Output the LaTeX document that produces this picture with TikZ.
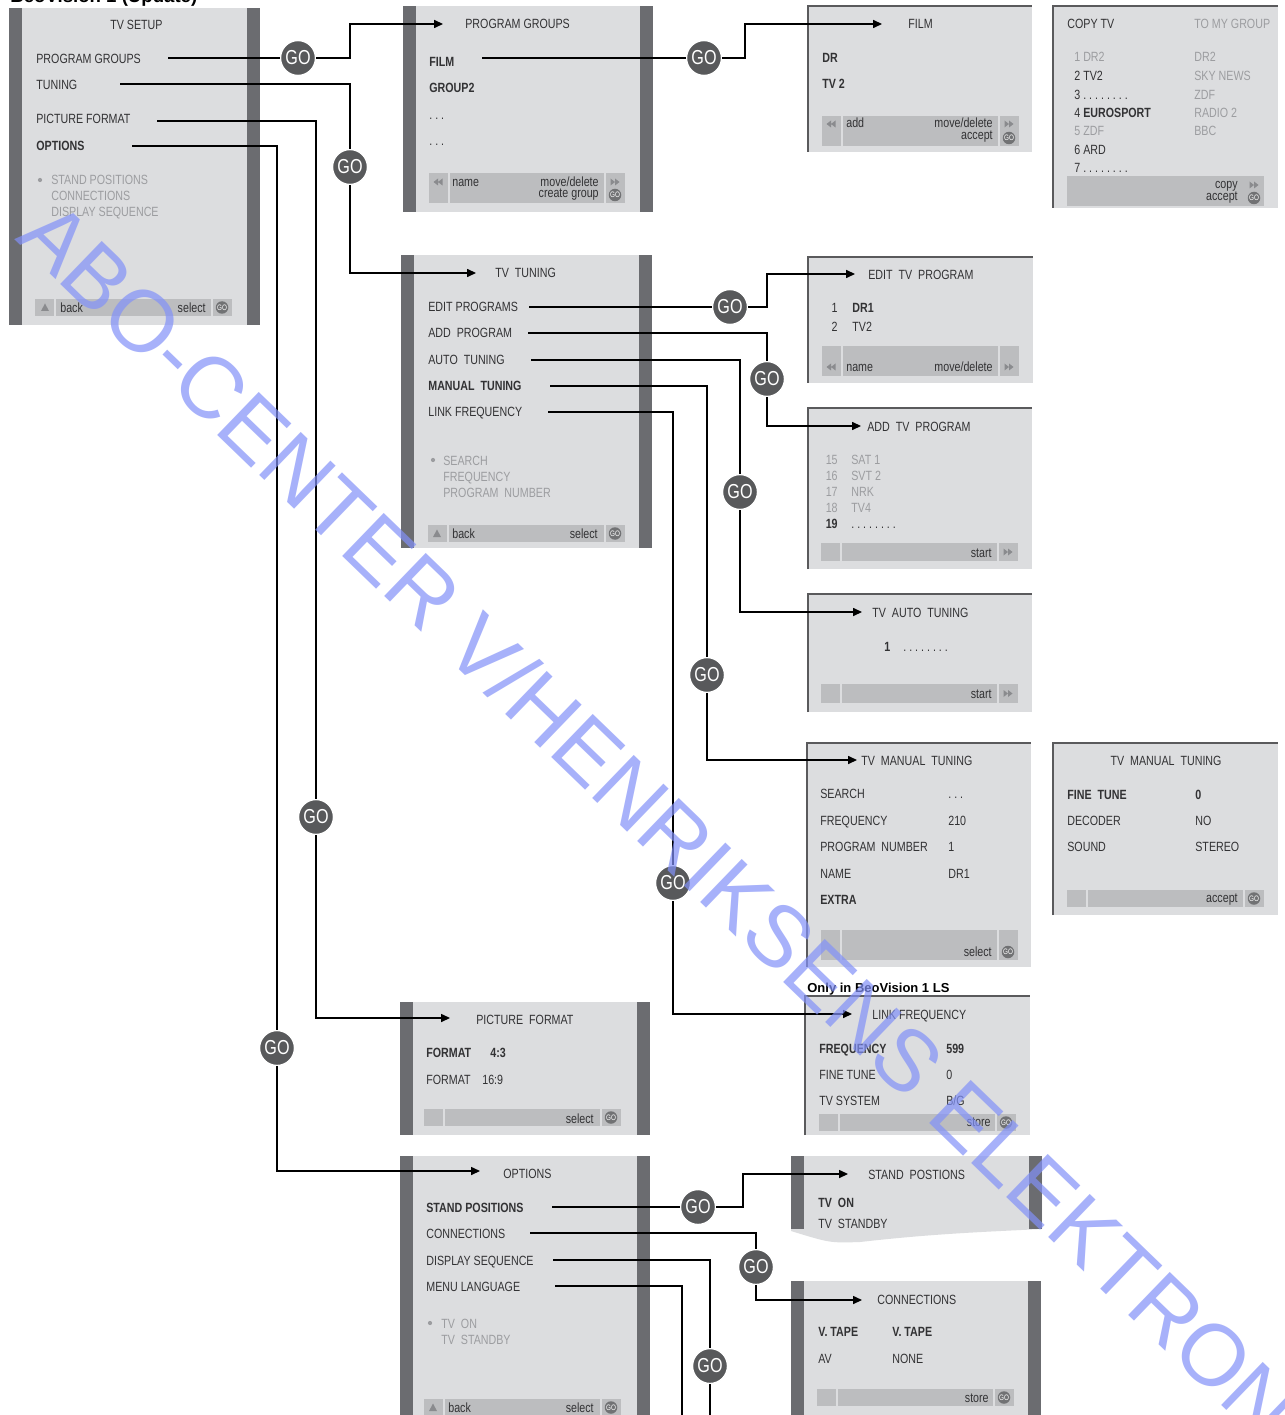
\documentclass[tikz,border=0pt]{standalone}
\usepackage{fontspec}
\setmainfont{Liberation Sans}[FakeStretch=0.8]
\newfontfamily\markfont{Liberation Sans}
\usetikzlibrary{arrows.meta, positioning}

\definecolor{ScrGray}{RGB}{220,221,223}
\definecolor{BarGray}{RGB}{107,108,112}
\definecolor{FootGray}{RGB}{188,189,191}
\definecolor{EdgeGray}{RGB}{90,90,92}
\definecolor{GoGray}{RGB}{88,89,91}
\definecolor{IconGray}{RGB}{138,139,142}
\definecolor{TxtDark}{RGB}{50,50,52}
\definecolor{TxtGray}{RGB}{156,157,160}
\definecolor{MarkBlue}{RGB}{130,145,248}

% screen with dark side bars: x1 y1 x2 y2
\newcommand{\tvpanel}[4]{%
  \fill[ScrGray] (#1,#2) rectangle (#3,#4);
  \fill[BarGray] (#1,#2) rectangle ({#1+13},#4);
  \fill[BarGray] ({#3-13},#2) rectangle (#3,#4);}
% screen cut open on the right: thin top and left edge
\newcommand{\cutpanel}[4]{%
  \fill[ScrGray] (#1,#2) rectangle (#3,#4);
  \draw[EdgeGray, line width=0.8pt] (#1,#4) -- (#1,#2) -- (#3,#2);}
% footer bar in three parts: x1 x2 y1 y2
\newcommand{\menubar}[4]{%
  \fill[FootGray] (#1,#3) rectangle ({#1+19},#4);
  \fill[FootGray] ({#1+21},#3) rectangle ({#2-21},#4);
  \fill[FootGray] ({#2-19},#3) rectangle (#2,#4);}

\begin{document}
\begin{tikzpicture}[x=0.02cm, y=-0.02cm,
        font=\fontsize{7.6}{9}\selectfont,
        item/.style={anchor=base west, inner sep=0pt, text=TxtDark},
        bitem/.style={item, font=\fontsize{7.6}{9}\selectfont\bfseries},
        dim/.style={item, text=TxtGray},
        rtext/.style={anchor=base east, inner sep=0pt, text=TxtDark},
        go/.style={circle, fill=GoGray, draw=white, line width=0.8pt, minimum size=0.7cm, inner sep=0pt, text=white, font=\fontsize{11.5}{12}\selectfont},
        goicon/.style={circle, fill=GoGray!85, minimum size=0.25cm, inner sep=0pt, text=white, font=\fontsize{4.5}{5}\selectfont},
        wire/.style={line width=0.7pt, black},
        arrow/.style={wire, -{Triangle[length=5pt, width=4.5pt]}},
        uptri/.pic={\fill[IconGray] (-4,3.5) -- (4,3.5) -- (0,-4) -- cycle;},
        rwd/.pic={\fill[IconGray] (0,-3.5) -- (0,3.5) -- (-4.5,0) -- cycle (4.5,-3.5) -- (4.5,3.5) -- (0,0) -- cycle;},
        fwd/.pic={\fill[IconGray] (0,-3.5) -- (0,3.5) -- (4.5,0) -- cycle (-4.5,-3.5) -- (-4.5,3.5) -- (0,0) -- cycle;}
    ]
        \useasboundingbox[fill=white] (0,0) rectangle (1284,1415);
        \node[anchor=base west, inner sep=0pt, font=\markfont\bfseries\fontsize{10.6}{12}\selectfont] (head) at (10,3) {BeoVision 1 (Update)};

        % TV SETUP
        \tvpanel{9}{8}{260}{325}
        \node[item] (setup) at (110,30) {TV SETUP};
        \node[item] (m-pg) at (36,64) {PROGRAM GROUPS};
        \node[item] (m-tu) at (36,90) {TUNING};
        \node[item] (m-pf) at (36,124) {PICTURE FORMAT};
        \node[bitem] (m-opt) at (36,151) {OPTIONS};
        \fill[TxtGray] (40,180) circle (1.2pt);
        \node[dim] (m-l1) at (51,185) {STAND POSITIONS};
        \node[dim] (m-l2) at (51,201) {CONNECTIONS};
        \node[dim] (m-l3) at (51,217) {DISPLAY SEQUENCE};
        \menubar{35}{232}{299}{316}
        \pic at (45,307.5) {uptri};
        \node[item] (m-back) at (60,313) {back};
        \node[rtext] (m-sel) at (206,313) {select};
        \node[goicon] (m-go) at (222,307.5) {GO};

        % PROGRAM GROUPS
        \tvpanel{403}{6}{653}{212}
        \node[item] (pg) at (465,29) {PROGRAM GROUPS};
        \node[bitem] (pg-film) at (429,67) {FILM};
        \node[bitem] (pg-g2) at (429,93) {GROUP2};
        \node[item] (pg-d1) at (429,120) {.\ .\ .};
        \node[item] (pg-d2) at (429,146) {.\ .\ .};
        \menubar{429}{625}{173}{203}
        \pic at (438,182) {rwd};
        \pic at (615,182) {fwd};
        \node[item] (pg-name) at (452,187) {name};
        \node[rtext] (pg-mv) at (599,187) {move/delete};
        \node[rtext] (pg-cr) at (599,198) {create group};
        \node[goicon] (pg-go) at (615,195) {GO};

        % FILM
        \cutpanel{808}{6}{1032}{152}
        \node[item] (film) at (908,29) {FILM};
        \node[bitem] (film-dr) at (822,63) {DR};
        \node[bitem] (film-tv) at (822,89) {TV 2};
        \menubar{822}{1019}{116}{146}
        \pic at (831,124) {rwd};
        \pic at (1009,124) {fwd};
        \node[item] (film-add) at (846,128) {add};
        \node[rtext] (film-mv) at (993,128) {move/delete};
        \node[rtext] (film-acc) at (993,140) {accept};
        \node[goicon] (film-go) at (1009,138) {GO};

        % COPY TV
        \cutpanel{1053}{6}{1278}{208}
        \node[item] (copy) at (1067,29) {COPY TV};
        \node[dim] (copy-to) at (1194,29) {TO MY GROUP};
        \node[dim] (c1) at (1074,62) {1 DR2};
        \node[item] (c2) at (1074,81) {2 TV2};
        \node[item] (c3) at (1074,100) {3 .\ .\ .\ .\ .\ .\ .\ .};
        \node[item] (c4) at (1074,118) {4 \textbf{EUROSPORT}};
        \node[dim] (c5) at (1074,136) {5 ZDF};
        \node[item] (c6) at (1074,155) {6 ARD};
        \node[item] (c7) at (1074,173) {7 .\ .\ .\ .\ .\ .\ .\ .};
        \node[dim] (g1) at (1194,62) {DR2};
        \node[dim] (g2) at (1194,81) {SKY NEWS};
        \node[dim] (g3) at (1194,100) {ZDF};
        \node[dim] (g4) at (1194,118) {RADIO 2};
        \node[dim] (g5) at (1194,136) {BBC};
        \fill[FootGray] (1067,176) rectangle (1264,206);
        \pic at (1254,185) {fwd};
        \node[rtext] (copy-cp) at (1238,189) {copy};
        \node[rtext] (copy-acc) at (1238,201) {accept};
        \node[goicon] (copy-go) at (1254,198) {GO};

        % TV TUNING
        \tvpanel{401}{255}{652}{548}
        \node[item] (tun) at (495,278) {TV\ \ TUNING};
        \node[item] (t-edit) at (428,312) {EDIT PROGRAMS};
        \node[item] (t-add) at (428,338) {ADD\ \ PROGRAM};
        \node[item] (t-auto) at (428,365) {AUTO\ \ TUNING};
        \node[bitem] (t-man) at (428,391) {MANUAL\ \ TUNING};
        \node[item] (t-link) at (428,417) {LINK FREQUENCY};
        \fill[TxtGray] (433,460) circle (1.2pt);
        \node[dim] (t-l1) at (443,465) {SEARCH};
        \node[dim] (t-l2) at (443,481) {FREQUENCY};
        \node[dim] (t-l3) at (443,497) {PROGRAM\ \ NUMBER};
        \menubar{428}{625}{525}{542}
        \pic at (437,533.5) {uptri};
        \node[item] (t-back) at (452,538) {back};
        \node[rtext] (t-sel) at (598,538) {select};
        \node[goicon] (t-go) at (615,533.5) {GO};

        % EDIT TV PROGRAM
        \cutpanel{808}{257}{1033}{383}
        \node[item] (edit) at (868,280) {EDIT\ \ TV\ \ PROGRAM};
        \node[rtext] (e-n1) at (838,313) {1};
        \node[bitem] (e-p1) at (852,313) {DR1};
        \node[rtext] (e-n2) at (838,332) {2};
        \node[item] (e-p2) at (852,332) {TV2};
        \menubar{822}{1019}{346}{376}
        \pic at (831,367) {rwd};
        \pic at (1009,367) {fwd};
        \node[item] (e-name) at (846,372) {name};
        \node[rtext] (e-mv) at (993,372) {move/delete};

        % ADD TV PROGRAM
        \cutpanel{808}{408}{1032}{569}
        \node[item] (add) at (867,431) {ADD\ \ TV\ \ PROGRAM};
        \node[dim, anchor=base east] (a-n1) at (838,464) {15};
        \node[dim, anchor=base east] (a-n2) at (838,480) {16};
        \node[dim, anchor=base east] (a-n3) at (838,496) {17};
        \node[dim, anchor=base east] (a-n4) at (838,512) {18};
        \node[bitem, anchor=base east] (a-n5) at (838,528) {19};
        \node[dim] (a-p1) at (851,464) {SAT 1};
        \node[dim] (a-p2) at (851,480) {SVT 2};
        \node[dim] (a-p3) at (851,496) {NRK};
        \node[dim] (a-p4) at (851,512) {TV4};
        \node[item] (a-p5) at (851,528) {.\ .\ .\ .\ .\ .\ .\ .};
        \menubar{821}{1018}{543}{561}
        \pic at (1008,552) {fwd};
        \node[rtext] (a-st) at (992,557) {start};

        % TV AUTO TUNING
        \cutpanel{808}{594}{1032}{712}
        \node[item] (auto) at (872,617) {TV\ \ AUTO\ \ TUNING};
        \node[bitem] (au-1) at (884,651) {1};
        \node[item] (au-d) at (903,651) {.\ .\ .\ .\ .\ .\ .\ .};
        \menubar{821}{1018}{684}{703}
        \pic at (1008,693.5) {fwd};
        \node[rtext] (au-st) at (992,698) {start};

        % TV MANUAL TUNING
        \cutpanel{807}{743}{1031}{967}
        \node[item] (man) at (861,765) {TV\ \ MANUAL\ \ TUNING};
        \node[item] (mn-1) at (820,798) {SEARCH};
        \node[item] (mn-2) at (820,825) {FREQUENCY};
        \node[item] (mn-3) at (820,851) {PROGRAM\ \ NUMBER};
        \node[item] (mn-4) at (820,878) {NAME};
        \node[bitem] (mn-5) at (820,904) {EXTRA};
        \node[item] (mv-1) at (948,798) {.\ .\ .};
        \node[item] (mv-2) at (948,825) {210};
        \node[item] (mv-3) at (948,851) {1};
        \node[item] (mv-4) at (948,878) {DR1};
        \menubar{821}{1018}{930}{960}
        \node[rtext] (mn-sel) at (992,956) {select};
        \node[goicon] (mn-go) at (1008,952) {GO};

        % TV MANUAL TUNING, EXTRA
        \cutpanel{1053}{743}{1278}{915}
        \node[anchor=base, inner sep=0pt, text=TxtDark] (xtra) at (1166,765) {TV\ \ MANUAL\ \ TUNING};
        \node[bitem] (x-1) at (1067,799) {FINE\ \ TUNE};
        \node[item] (x-2) at (1067,825) {DECODER};
        \node[item] (x-3) at (1067,851) {SOUND};
        \node[bitem] (xv-1) at (1195,799) {0};
        \node[item] (xv-2) at (1195,825) {NO};
        \node[item] (xv-3) at (1195,851) {STEREO};
        \menubar{1067}{1264}{890}{907}
        \node[rtext] (x-acc) at (1238,902) {accept};
        \node[goicon] (x-go) at (1254,898.5) {GO};

        % LINK FREQUENCY
        \node[anchor=base west, inner sep=0pt, font=\markfont\bfseries\fontsize{7.4}{9}\selectfont] (only) at (807,992) {Only in BeoVision 1 LS};
        \cutpanel{805}{996}{1030}{1135}
        \node[item] (link) at (872,1019) {LINK FREQUENCY};
        \node[bitem] (lk-1) at (819,1053) {FREQUENCY};
        \node[item] (lk-2) at (819,1079) {FINE TUNE};
        \node[item] (lk-3) at (819,1105) {TV SYSTEM};
        \node[bitem] (lv-1) at (946,1053) {599};
        \node[item] (lv-2) at (946,1079) {0};
        \node[item] (lv-3) at (946,1105) {B/G};
        \menubar{819}{1016}{1114}{1131}
        \node[rtext] (lk-st) at (991,1126) {store};
        \node[goicon] (lk-go) at (1006,1122.5) {GO};

        % PICTURE FORMAT
        \tvpanel{400}{1002}{650}{1135}
        \node[item] (pic) at (476,1024) {PICTURE\ \ FORMAT};
        \node[bitem] (pf-1) at (426,1057) {FORMAT};
        \node[bitem] (pf-1v) at (490,1057) {4:3};
        \node[item] (pf-2) at (426,1084) {FORMAT};
        \node[item] (pf-2v) at (482,1084) {16:9};
        \menubar{424}{621}{1109}{1126}
        \node[rtext] (pf-sel) at (594,1123) {select};
        \node[goicon] (pf-go) at (611,1117.5) {GO};

        % OPTIONS
        \tvpanel{400}{1156}{650}{1425}
        \node[item] (opt) at (503,1178) {OPTIONS};
        \node[bitem] (o-stand) at (426,1212) {STAND POSITIONS};
        \node[item] (o-conn) at (426,1238) {CONNECTIONS};
        \node[item] (o-disp) at (426,1265) {DISPLAY SEQUENCE};
        \node[item] (o-menu) at (426,1291) {MENU LANGUAGE};
        \fill[TxtGray] (430,1323) circle (1.2pt);
        \node[dim] (o-l1) at (441,1328) {TV\ \ ON};
        \node[dim] (o-l2) at (441,1344) {TV\ \ STANDBY};
        \menubar{424}{621}{1399}{1420}
        \pic at (433,1407.5) {uptri};
        \node[item] (o-back) at (448,1412) {back};
        \node[rtext] (o-sel) at (594,1412) {select};
        \node[goicon] (o-go) at (611,1407.5) {GO};

        % STAND POSTIONS (torn screen)
        \fill[ScrGray] (791,1156) -- (1042,1156) -- (1042,1229) .. controls (980,1232) and (930,1234) .. (860,1242) .. controls (830,1243) .. (791,1231) -- cycle;
        \fill[BarGray] (791,1156) rectangle (804,1229);
        \fill[BarGray] (1029,1156) rectangle (1042,1229);
        \node[item] (stand) at (868,1179) {STAND\ \ POSTIONS};
        \node[bitem] (s-on) at (818,1207) {TV\ \ ON};
        \node[item] (s-sb) at (818,1228) {TV\ \ STANDBY};

        % CONNECTIONS
        \tvpanel{791}{1281}{1041}{1425}
        \node[item] (conn) at (877,1304) {CONNECTIONS};
        \node[bitem] (cn-1) at (818,1336) {V. TAPE};
        \node[bitem] (cn-1v) at (892,1336) {V. TAPE};
        \node[item] (cn-2) at (818,1363) {AV};
        \node[item] (cn-2v) at (892,1363) {NONE};
        \menubar{817}{1014}{1389}{1406}
        \node[rtext] (cn-st) at (989,1402) {store};
        \node[goicon] (cn-go) at (1004,1397.5) {GO};

        % GO buttons
        \node[go] (go-pg) at (298,58) {GO};
        \node[go] (go-tu) at (350,167) {GO};
        \node[go] (go-pf) at (316,817) {GO};
        \node[go] (go-opt) at (277,1048) {GO};
        \node[go] (go-film) at (704,58) {GO};
        \node[go] (go-edit) at (730,307) {GO};
        \node[go] (go-add) at (767,379) {GO};
        \node[go] (go-auto) at (740,492) {GO};
        \node[go] (go-man) at (707,675) {GO};
        \node[go] (go-link) at (673,883) {GO};
        \node[go] (go-stand) at (698,1207) {GO};
        \node[go] (go-conn) at (756,1267) {GO};
        \node[go] (go-disp) at (710,1366) {GO};

        % line starts and arrow tips
        \coordinate (s-pg) at (168,58);   \coordinate (e-pg) at (443,24);
        \coordinate (s-tu) at (120,84);   \coordinate (e-tu) at (476,273);
        \coordinate (s-pf) at (157,121);  \coordinate (e-pf) at (450,1018);
        \coordinate (s-opt) at (132,146); \coordinate (e-opt) at (480,1171);
        \coordinate (s-film) at (482,58); \coordinate (e-film) at (882,24);
        \coordinate (s-edit) at (529,307); \coordinate (e-edit) at (855,274);
        \coordinate (s-add) at (528,333); \coordinate (e-add) at (861,426);
        \coordinate (s-auto) at (531,360); \coordinate (e-auto) at (862,612);
        \coordinate (s-man) at (550,386); \coordinate (e-man) at (857,760);
        \coordinate (s-link) at (548,412); \coordinate (e-link) at (852,1014);
        \coordinate (s-stand) at (552,1207); \coordinate (e-stand) at (848,1174);
        \coordinate (s-conn) at (530,1233); \coordinate (e-conn) at (862,1300);
        \coordinate (s-disp) at (553,1260); \coordinate (e-disp) at (710,1430);
        \coordinate (s-menu) at (555,1286); \coordinate (e-menu) at (682,1430);

        % connectors
        \draw[wire] (s-pg) -- (go-pg);
        \draw[arrow] (go-pg) -- ++(52,0) |- (e-pg);
        \draw[wire] (s-tu) -| (go-tu);
        \draw[arrow] (go-tu) |- (e-tu);
        \draw[wire] (s-pf) -| (go-pf);
        \draw[arrow] (go-pf) |- (e-pf);
        \draw[wire] (s-opt) -| (go-opt);
        \draw[arrow] (go-opt) |- (e-opt);
        \draw[wire] (s-film) -- (go-film);
        \draw[arrow] (go-film) -- ++(41,0) |- (e-film);
        \draw[wire] (s-edit) -- (go-edit);
        \draw[arrow] (go-edit) -- ++(37,0) |- (e-edit);
        \draw[wire] (s-add) -| (go-add);
        \draw[arrow] (go-add) |- (e-add);
        \draw[wire] (s-auto) -| (go-auto);
        \draw[arrow] (go-auto) |- (e-auto);
        \draw[wire] (s-man) -| (go-man);
        \draw[arrow] (go-man) |- (e-man);
        \draw[wire] (s-link) -| (go-link);
        \draw[arrow] (go-link) |- (e-link);
        \draw[wire] (s-stand) -- (go-stand);
        \draw[arrow] (go-stand) -- ++(45,0) |- (e-stand);
        \draw[wire] (s-conn) -| (go-conn);
        \draw[arrow] (go-conn) |- (e-conn);
        \draw[wire] (s-disp) -| (go-disp);
        \draw[wire] (go-disp) -- (e-disp);
        \draw[wire] (s-menu) -| (e-menu);

        % watermark
        \node[anchor=base west, inner sep=0pt, rotate=-44, text=MarkBlue, opacity=0.7, font=\markfont\fontsize{49.5}{50}\selectfont] (wmark) at (14,239) {ABO-CENTER V/HENRIKSENS ELEKTRONIK};
    \end{tikzpicture}
\end{document}
